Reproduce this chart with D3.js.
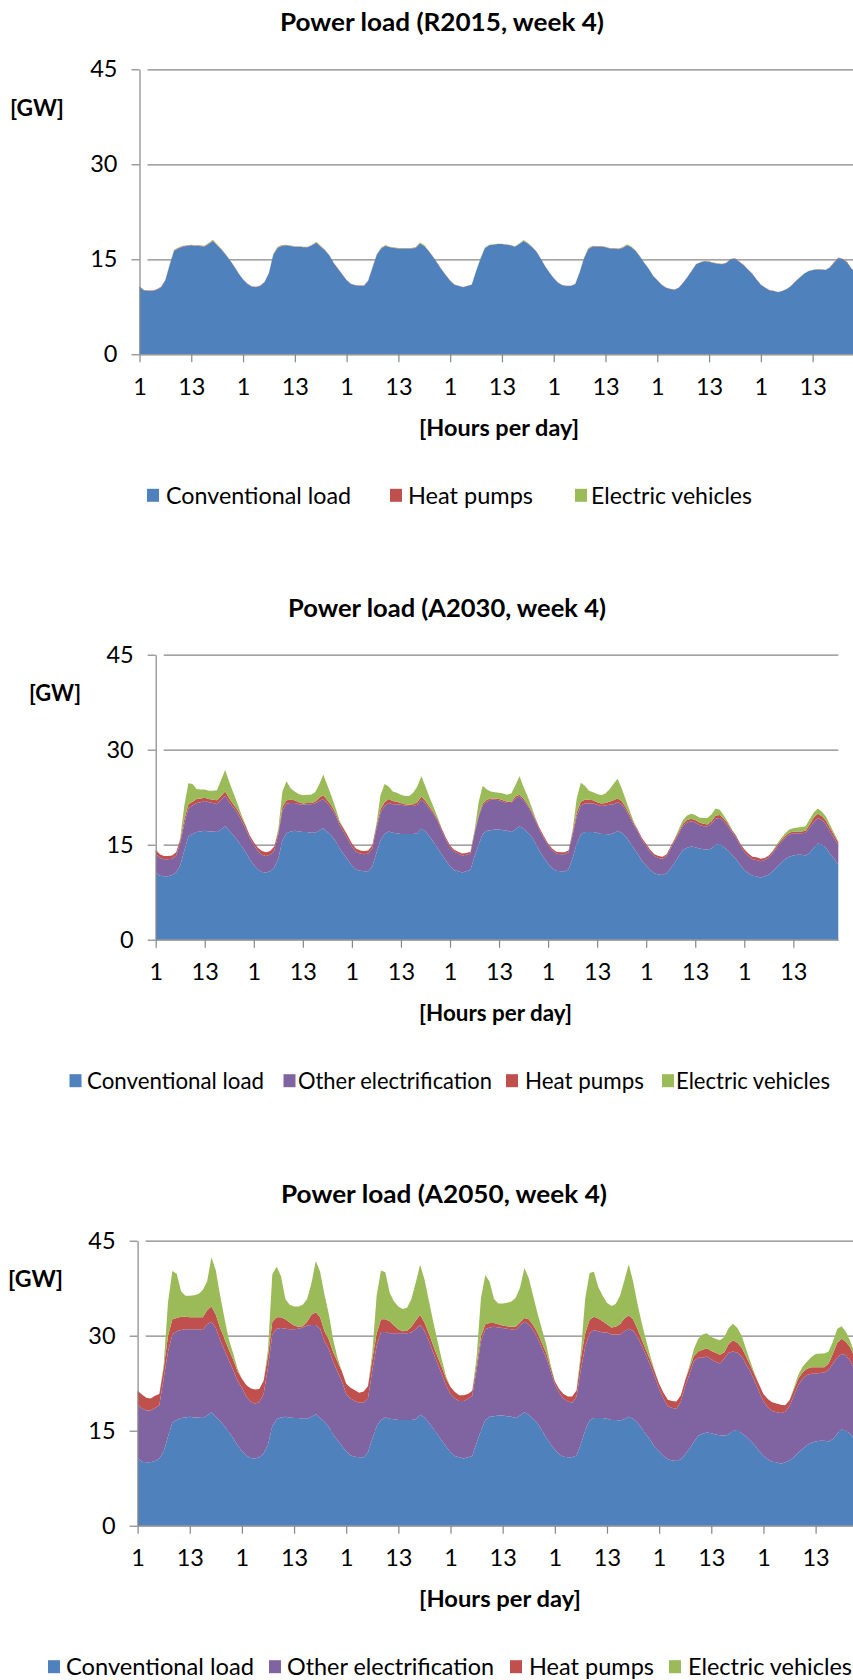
<!DOCTYPE html>
<html>
<head>
<meta charset="utf-8">
<script src="https://cdn.jsdelivr.net/npm/d3@7"></script>
<style>
  body { margin: 0; background: #fff; }
  svg { display: block; font-family: Lato, "Open Sans", sans-serif; }
</style>
</head>
<body>
<svg id="chart" width="853" height="1680"></svg>
<script>
// ---------------- DATA ----------------
const yTickValues = [0, 15, 30, 45];
const hourTickLabels = ["1", "13"];
const seriesNames = ["Conventional load", "Other electrification", "Heat pumps", "Electric vehicles"];
const chartTitles = ["Power load (R2015, week 4)", "Power load (A2030, week 4)", "Power load (A2050, week 4)"];
const yAxisTitle = "[GW]";
const xAxisTitle = "[Hours per day]";

// Conventional load (GW), 7 days x 24 hours (same in every scenario)
const conventionalLoad = [
  [10.7,10.1,10.0,10.0,10.2,10.6,11.7,14.1,16.3,16.7,17.0,17.1,17.2,17.1,17.1,17.0,17.4,17.9,17.2,16.5,15.7,14.8,13.8,12.7],
  [11.8,11.1,10.7,10.6,10.8,11.4,12.8,15.7,16.8,17.1,17.2,17.1,17.0,17.0,16.9,16.9,17.2,17.6,17.0,16.4,15.6,14.4,13.5,12.6],
  [11.7,11.1,10.9,10.8,10.8,11.6,13.7,15.7,16.7,17.1,16.9,16.8,16.7,16.7,16.7,16.7,16.8,17.5,17.1,16.3,15.4,14.4,13.4,12.5],
  [11.6,11.0,10.8,10.6,10.8,11.0,13.1,15.0,16.7,17.2,17.3,17.4,17.4,17.3,17.2,17.0,17.4,17.9,17.5,16.9,16.2,15.1,13.9,12.9],
  [12.0,11.3,10.9,10.8,10.8,11.1,12.9,15.1,16.6,17.0,17.0,17.0,16.9,16.7,16.7,16.6,16.8,17.2,16.9,16.3,15.4,14.4,13.5,12.4],
  [11.7,11.0,10.5,10.3,10.2,10.5,11.3,12.2,13.2,14.2,14.5,14.7,14.6,14.4,14.3,14.2,14.4,15.0,15.1,14.6,14.1,13.4,12.7,11.8],
  [11.0,10.5,10.1,10.0,9.8,10.0,10.3,10.8,11.5,12.1,12.7,13.1,13.3,13.4,13.4,13.3,13.7,14.5,15.2,15.0,14.5,13.5,12.8,11.8]
];

// R2015
const heatPumps2015 = [
  [0.06,0.06,0.06,0.06,0.06,0.06,0.06,0.08,0.08,0.07,0.07,0.07,0.06,0.06,0.06,0.07,0.07,0.08,0.07,0.07,0.06,0.06,0.06,0.06],
  [0.06,0.06,0.06,0.06,0.06,0.06,0.06,0.07,0.07,0.06,0.05,0.04,0.03,0.03,0.03,0.04,0.06,0.07,0.06,0.06,0.05,0.05,0.05,0.05],
  [0.05,0.05,0.05,0.05,0.05,0.05,0.05,0.06,0.06,0.06,0.05,0.04,0.03,0.03,0.03,0.04,0.05,0.05,0.05,0.04,0.04,0.04,0.04,0.04],
  [0.04,0.04,0.03,0.03,0.03,0.03,0.03,0.03,0.03,0.03,0.03,0.02,0.02,0.02,0.02,0.02,0.02,0.03,0.03,0.03,0.03,0.03,0.03,0.03],
  [0.03,0.03,0.03,0.03,0.04,0.04,0.05,0.06,0.06,0.06,0.06,0.05,0.04,0.04,0.04,0.05,0.06,0.06,0.05,0.04,0.04,0.03,0.03,0.03],
  [0.03,0.03,0.04,0.04,0.04,0.04,0.04,0.03,0.03,0.04,0.04,0.04,0.04,0.04,0.04,0.04,0.04,0.05,0.05,0.04,0.04,0.04,0.04,0.04],
  [0.04,0.04,0.04,0.04,0.04,0.04,0.03,0.03,0.03,0.03,0.03,0.03,0.03,0.03,0.03,0.03,0.05,0.07,0.07,0.06,0.06,0.06,0.05,0.05]
];
const electricVehicles2015 = [
  [0,0,0,0,0,0,0.02,0.08,0.12,0.10,0.05,0.05,0.05,0.05,0.05,0.06,0.09,0.12,0.09,0.06,0.03,0.01,0,0],
  [0,0,0,0,0,0,0.03,0.09,0.12,0.08,0.05,0.04,0.04,0.05,0.05,0.06,0.08,0.12,0.09,0.06,0.03,0.01,0,0],
  [0,0,0,0,0,0,0.02,0.09,0.12,0.09,0.05,0.05,0.05,0.05,0.05,0.06,0.09,0.12,0.09,0.06,0.03,0.01,0,0],
  [0,0,0,0,0,0,0.02,0.08,0.11,0.08,0.05,0.04,0.04,0.04,0.05,0.06,0.08,0.11,0.08,0.05,0.03,0.01,0,0],
  [0,0,0,0,0,0,0.02,0.08,0.11,0.09,0.05,0.05,0.05,0.05,0.05,0.06,0.09,0.12,0.08,0.05,0.03,0.01,0,0],
  [0,0,0,0,0,0,0,0.01,0.02,0.03,0.04,0.04,0.04,0.04,0.04,0.04,0.04,0.04,0.03,0.02,0.01,0,0,0],
  [0,0,0,0,0,0,0,0.01,0.01,0.02,0.02,0.03,0.03,0.03,0.03,0.03,0.03,0.03,0.03,0.03,0.02,0.02,0.01,0]
];

// A2030
const otherElectrification2030 = [
  [2.9,2.8,2.7,2.7,2.6,2.7,3.6,4.2,4.4,4.5,4.6,4.6,4.7,4.6,4.5,4.4,4.7,4.8,4.5,4.4,4.3,4.0,3.7,3.4],
  [3.2,2.9,2.7,2.6,2.6,2.7,3.8,4.7,4.7,4.5,4.4,4.3,4.3,4.4,4.5,4.6,4.7,4.6,4.5,4.3,4.0,3.7,3.5,3.3],
  [3.0,2.8,2.7,2.7,2.8,2.8,3.8,4.4,4.4,4.5,4.5,4.6,4.6,4.5,4.4,4.4,4.5,4.6,4.4,4.3,4.4,4.3,3.8,3.3],
  [3.0,2.9,2.8,2.7,2.6,2.6,3.6,4.4,4.5,4.6,4.8,4.7,4.6,4.5,4.4,4.6,4.9,4.7,4.5,4.2,3.8,3.5,3.3,3.1],
  [2.9,2.8,2.7,2.7,2.7,2.7,3.6,4.4,4.6,4.5,4.5,4.5,4.4,4.4,4.5,4.7,4.6,4.5,4.5,4.2,3.9,3.7,3.5,3.3],
  [3.1,2.9,2.7,2.6,2.6,2.7,3.1,3.4,3.6,3.8,4.0,4.0,3.9,3.7,3.6,3.7,3.9,4.1,4.1,4.1,3.8,3.6,3.4,3.1],
  [2.9,2.7,2.6,2.6,2.6,2.6,2.7,2.9,3.1,3.3,3.4,3.5,3.5,3.4,3.4,3.6,4.0,4.1,4.0,3.9,3.7,3.5,3.2,3.1]
];
const heatPumps2030 = [
  [0.6,0.6,0.5,0.5,0.5,0.5,0.5,0.7,0.7,0.6,0.6,0.6,0.5,0.5,0.5,0.6,0.6,0.7,0.6,0.5,0.5,0.5,0.5,0.4],
  [0.4,0.5,0.6,0.6,0.6,0.6,0.5,0.6,0.5,0.5,0.4,0.3,0.2,0.2,0.2,0.3,0.5,0.6,0.5,0.5,0.4,0.4,0.5,0.5],
  [0.5,0.5,0.5,0.5,0.5,0.5,0.5,0.5,0.6,0.6,0.5,0.4,0.3,0.2,0.2,0.3,0.4,0.5,0.4,0.4,0.3,0.3,0.3,0.3],
  [0.3,0.3,0.3,0.3,0.3,0.3,0.3,0.3,0.3,0.3,0.2,0.2,0.2,0.2,0.2,0.2,0.3,0.3,0.3,0.3,0.3,0.3,0.3,0.3],
  [0.3,0.3,0.3,0.3,0.3,0.3,0.5,0.6,0.6,0.6,0.6,0.5,0.4,0.4,0.4,0.5,0.6,0.6,0.5,0.4,0.4,0.3,0.3,0.3],
  [0.3,0.3,0.3,0.3,0.3,0.3,0.3,0.3,0.3,0.3,0.4,0.4,0.4,0.4,0.4,0.3,0.4,0.5,0.5,0.4,0.4,0.3,0.3,0.3],
  [0.4,0.4,0.4,0.4,0.4,0.3,0.3,0.3,0.3,0.3,0.3,0.3,0.3,0.3,0.3,0.3,0.5,0.7,0.7,0.6,0.6,0.6,0.5,0.5]
];
const electricVehicles2030 = [
  [0,0,0,0,0,0,0.2,2.2,3.3,2.8,1.6,1.4,1.3,1.3,1.4,1.6,2.5,3.4,2.6,1.8,1.0,0.4,0.1,0],
  [0,0,0,0,0,0,0.4,2.4,3.0,1.8,1.4,1.3,1.3,1.3,1.3,1.5,2.1,3.3,2.4,1.5,0.8,0.3,0.1,0],
  [0,0,0,0,0,0,0.3,2.2,2.9,2.0,1.5,1.4,1.3,1.3,1.4,1.8,2.5,3.2,2.3,1.5,0.8,0.3,0.1,0],
  [0,0,0,0,0,0,0.3,2.0,2.8,1.6,1.1,1.0,1.0,1.1,1.1,1.3,1.8,2.9,1.8,1.2,0.6,0.2,0,0],
  [0,0,0,0,0,0,0.3,2.2,3.0,2.2,1.4,1.3,1.3,1.3,1.5,1.9,2.6,3.1,2.0,1.2,0.6,0.2,0,0],
  [0,0,0,0,0,0,0,0.1,0.4,0.6,0.7,0.8,0.8,0.8,0.9,1.0,1.1,1.1,0.8,0.5,0.3,0.1,0,0],
  [0,0,0,0,0,0,0,0.1,0.2,0.3,0.4,0.5,0.5,0.6,0.7,0.7,0.8,0.8,0.8,0.7,0.6,0.5,0.3,0.1]
];

// A2050
const otherElectrification2050 = [
  [8.4,8.4,8.2,8.2,8.4,8.4,11.6,13.4,13.9,14.0,13.9,13.9,13.8,13.9,13.9,13.9,14.4,14.3,14.0,12.8,12.0,11.3,10.8,10.2],
  [10.0,9.3,8.9,8.7,8.7,9.4,12.2,14.5,14.3,14.1,13.9,13.9,14.0,14.1,14.4,14.7,14.5,14.1,14.1,12.7,12.3,11.5,10.8,10.2],
  [9.1,9.0,8.8,8.6,8.6,8.5,10.8,12.7,13.9,13.5,13.5,13.6,13.7,13.7,13.7,13.8,14.2,14.2,13.7,12.9,12.0,11.2,10.5,9.6],
  [9.2,9.1,8.9,9.1,9.2,9.5,11.5,14.1,14.3,14.1,14.1,13.9,13.8,13.8,13.8,13.9,14.2,14.3,14.3,14.0,13.5,13.0,12.6,11.6],
  [10.3,9.7,9.2,8.8,8.6,9.3,11.8,13.2,13.8,13.9,13.7,13.5,13.6,13.5,13.5,13.6,13.9,13.9,13.9,13.5,13.0,12.5,11.8,11.1],
  [9.9,9.1,8.4,8.3,8.3,9.1,10.7,11.8,12.8,12.3,12.0,12.0,11.7,11.5,11.3,12.2,12.9,12.5,12.2,12.1,11.4,10.9,10.1,9.4],
  [8.6,8.2,8.0,7.9,8.0,8.0,8.6,9.7,10.7,11.1,11.1,10.9,10.7,10.7,10.8,11.3,11.9,12.1,11.9,11.9,11.5,11.1,10.6,10.2]
];
const heatPumps2050 = [
  [2.2,2.2,2.0,1.9,1.9,1.8,1.6,2.5,2.4,2.1,2.1,2.0,1.9,1.9,1.9,2.0,2.2,2.4,2.1,1.9,1.8,1.7,1.6,1.5],
  [1.4,1.8,2.1,2.2,2.1,2.1,1.8,2.0,1.8,1.7,1.5,1.1,0.6,0.3,0.2,0.6,1.6,2.0,1.8,1.6,1.5,1.5,1.6,1.6],
  [1.6,1.7,1.7,1.6,1.8,1.9,1.8,1.9,2.0,2.0,1.9,1.2,0.6,0.3,0.4,0.9,1.4,1.6,1.3,1.2,1.1,1.1,1.1,1.1],
  [1.1,1.0,0.9,0.9,0.8,0.8,0.8,0.8,0.8,0.7,0.6,0.5,0.4,0.4,0.4,0.5,0.5,0.6,0.8,0.8,0.8,0.8,0.8,0.6],
  [0.5,0.6,0.7,0.8,1.0,1.0,1.8,2.1,2.1,2.1,2.0,1.8,1.3,1.1,1.2,1.6,2.0,2.1,1.8,1.3,1.0,0.8,0.8,0.8],
  [0.8,0.9,1.0,1.1,1.1,1.0,1.0,0.9,0.8,1.0,1.3,1.3,1.3,1.4,1.4,1.0,1.4,1.8,1.6,1.4,1.2,1.0,1.0,1.1],
  [1.2,1.3,1.4,1.4,1.3,1.0,0.9,1.0,1.0,1.0,1.0,1.0,1.0,0.9,0.8,1.0,1.6,2.3,2.4,2.1,2.1,2.0,1.8,1.6]
];
const electricVehicles2050 = [
  [0,0,0,0,0,0,0.5,5.3,7.6,7.0,4.0,3.3,3.4,3.5,3.7,4.3,4.6,7.8,7.0,5.1,3.2,1.6,1.0,0.4],
  [0,0,0,0,0,0,1.0,7.5,8.0,6.5,3.2,2.8,3.0,3.2,3.4,3.6,5.0,8.1,7.2,5.8,4.0,2.0,0.6,0],
  [0,0,0,0,0,0,1.0,6.0,7.7,7.4,4.5,3.8,3.6,3.5,3.6,4.4,6.0,7.9,6.8,5.2,3.8,2.5,1.2,0.3],
  [0,0,0,0,0,0,1.2,6.0,7.8,6.5,3.8,3.3,3.5,3.7,4.0,4.6,5.5,7.9,6.5,4.6,3.1,2.2,1.4,0.4],
  [0,0,0,0,0,0,1.0,5.5,7.4,7.1,5.0,4.0,3.4,3.4,3.6,4.5,6.0,8.1,6.0,4.0,2.6,1.6,0.6,0.1],
  [0,0,0,0,0,0,0,0.4,1.1,2.0,2.4,2.4,2.2,2.2,2.3,2.4,2.5,2.6,2.3,1.9,1.2,0.6,0.2,0],
  [0,0,0,0,0,0,0,0.3,0.6,0.9,1.1,1.6,2.1,2.2,2.2,1.9,1.9,2.2,2.0,1.6,1.0,0.6,0.3,0.1]
];

// ---------------- STYLE / LAYOUT ----------------
const colors = {
  "Conventional load": "#4F81BD",
  "Other electrification": "#8064A2",
  "Heat pumps": "#C0504D",
  "Electric vehicles": "#9BBB59"
};
const gridColor = "#868686";
const tickFont = 23.5, titleFont = 25, axisTitleFont = 23, legendFont = 23;

const flat = a => [].concat(...a);

const charts = [
  {
    title: chartTitles[0],
    series: { "Conventional load": flat(conventionalLoad), "Heat pumps": flat(heatPumps2015), "Electric vehicles": flat(electricVehicles2015) },
    x0: 139.5, x1: 860.1, yb: 354.3, yt: 69.3, gridRight: 900,
    titleX: 442, titleW: 324, gwX: 10, gwW: 54, xTitleX: 499, xTitleW: 160,
    legend: [["Conventional load", 147, 166, 185], ["Heat pumps", 390, 408, 125], ["Electric vehicles", 575, 591, 161]]
  },
  {
    title: chartTitles[1],
    series: { "Conventional load": flat(conventionalLoad), "Other electrification": flat(otherElectrification2030), "Heat pumps": flat(heatPumps2030), "Electric vehicles": flat(electricVehicles2030) },
    x0: 155.7, x1: 838.3, yb: 939.7, yt: 654.7, gridRight: 838.3,
    titleX: 447, titleW: 318, gwX: 29, gwW: 52, xTitleX: 495.5, xTitleW: 153,
    legend: [["Conventional load", 69.5, 87, 177], ["Other electrification", 283.5, 298, 194], ["Heat pumps", 506, 525, 119], ["Electric vehicles", 662, 676, 154]]
  },
  {
    title: chartTitles[2],
    series: { "Conventional load": flat(conventionalLoad), "Other electrification": flat(otherElectrification2050), "Heat pumps": flat(heatPumps2050), "Electric vehicles": flat(electricVehicles2050) },
    x0: 137.6, x1: 863.4, yb: 1525.7, yt: 1240.7, gridRight: 900,
    titleX: 444, titleW: 326, gwX: 8, gwW: 55, xTitleX: 500, xTitleW: 162,
    legend: [["Conventional load", 48, 66, 188], ["Other electrification", 269, 287, 207], ["Heat pumps", 510, 529, 125], ["Electric vehicles", 669, 688, 164]]
  }
];

const svg = d3.select("#chart");

function drawChart(cfg) {
  const keys = seriesNames.filter(k => k in cfg.series);
  const n = cfg.series["Conventional load"].length;
  const x = d3.scaleLinear().domain([0, n - 1]).range([cfg.x0, cfg.x1]);
  const y = d3.scaleLinear().domain([0, 45]).range([cfg.yb, cfg.yt]);
  const g = svg.append("g");

  // horizontal gridlines (behind areas)
  const grid = g.append("g")
    .attr("transform", `translate(${cfg.x0},0)`)
    .call(d3.axisLeft(y).tickValues(yTickValues.filter(v => v > 0))
      .tickSize(-(cfg.gridRight - cfg.x0)).tickSizeOuter(0).tickFormat(""));
  grid.select(".domain").remove();
  grid.selectAll("line").attr("stroke", gridColor).attr("stroke-width", 1.2).attr("x1", 8);

  // stacked areas
  const rows = d3.range(n).map(i => {
    const o = {};
    keys.forEach(k => o[k] = cfg.series[k][i]);
    return o;
  });
  const layers = d3.stack().keys(keys)(rows);
  const area = d3.area().x((d, i) => x(i)).y0(d => y(d[0])).y1(d => y(d[1]));
  g.append("g").selectAll("path").data(layers).join("path")
    .attr("d", area).attr("fill", d => colors[d.key]);

  // Y axis
  const yAx = g.append("g")
    .attr("transform", `translate(${cfg.x0},0)`)
    .call(d3.axisLeft(y).tickValues(yTickValues).tickSizeInner(8).tickSizeOuter(0).tickPadding(14));
  yAx.attr("font-family", null).attr("font-size", null);
  yAx.select(".domain").attr("stroke", gridColor).attr("stroke-width", 1.2);
  yAx.selectAll("line").attr("stroke", gridColor).attr("stroke-width", 1.2);
  yAx.selectAll("text").attr("font-size", tickFont).attr("fill", "#000");

  // X axis
  const tickIdx = d3.range(0, n - 1, 12);
  const xAx = g.append("g")
    .attr("transform", `translate(0,${cfg.yb})`)
    .call(d3.axisBottom(x).tickValues(tickIdx).tickSizeInner(8).tickSizeOuter(0).tickPadding(16)
      .tickFormat(i => hourTickLabels[(i / 12) % 2]));
  xAx.attr("font-family", null).attr("font-size", null);
  xAx.select(".domain").attr("stroke", gridColor).attr("stroke-width", 1.2);
  xAx.selectAll("line").attr("stroke", gridColor).attr("stroke-width", 1.2);
  xAx.selectAll("text").attr("font-size", tickFont).attr("fill", "#000");

  // Title
  g.append("text").attr("x", cfg.titleX).attr("y", cfg.yt - 38)
    .attr("text-anchor", "middle").attr("font-size", titleFont).attr("font-weight", "bold")
    .attr("textLength", cfg.titleW).attr("lengthAdjust", "spacingAndGlyphs")
    .attr("fill", "#000").text(cfg.title);

  // Y axis title
  g.append("text").attr("x", cfg.gwX).attr("y", cfg.yt + 38 + 0.36 * axisTitleFont)
    .attr("font-size", axisTitleFont).attr("font-weight", "bold")
    .attr("textLength", cfg.gwW).attr("lengthAdjust", "spacingAndGlyphs")
    .attr("fill", "#000").text(yAxisTitle);

  // X axis title
  g.append("text").attr("x", cfg.xTitleX).attr("y", cfg.yb + 73 + 0.36 * axisTitleFont)
    .attr("text-anchor", "middle").attr("font-size", axisTitleFont).attr("font-weight", "bold")
    .attr("textLength", cfg.xTitleW).attr("lengthAdjust", "spacingAndGlyphs")
    .attr("fill", "#000").text(xAxisTitle);

  // Legend
  const ly = cfg.yb + 141;
  const leg = g.append("g").selectAll("g").data(cfg.legend).join("g");
  leg.append("rect").attr("x", d => d[1]).attr("y", ly - 6.5).attr("width", 12).attr("height", 13)
    .attr("fill", d => colors[d[0]]);
  leg.append("text").attr("x", d => d[2]).attr("y", ly + 0.36 * legendFont)
    .attr("font-size", legendFont).attr("textLength", d => d[3]).attr("lengthAdjust", "spacingAndGlyphs")
    .attr("fill", "#000").text(d => d[0]);
}

charts.forEach(drawChart);
</script>
</body>
</html>
